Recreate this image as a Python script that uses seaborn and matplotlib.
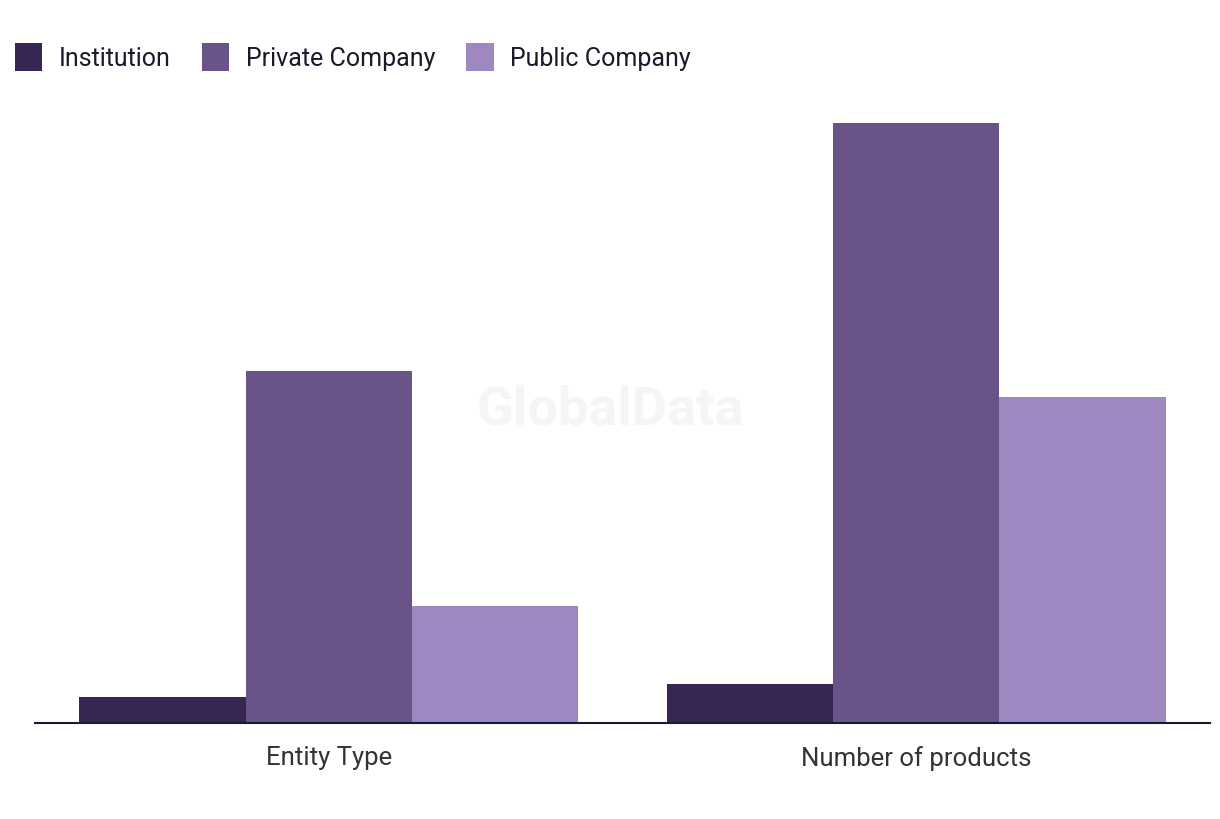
import matplotlib.pyplot as plt
import pandas as pd
import seaborn as sns
from matplotlib.patches import Patch

categories = ["Entity Type", "Number of products"]
series = ["Institution", "Private Company", "Public Company"]
institution = [2, 3]
private_company = [27, 46]
public_company = [9, 25]
colors = ["#372554", "#6a5389", "#9f88c1"]


def build_frame():
    rows = []
    for name, vals in zip(series, [institution, private_company, public_company]):
        for cat, v in zip(categories, vals):
            rows.append({"category": cat, "series": name, "value": v})
    return pd.DataFrame(rows)


def main():
    df = build_frame()
    sns.set_theme(style="white")
    plt.rcParams["font.family"] = ["Roboto", "DejaVu Sans"]

    fig = plt.figure(figsize=(12.2, 8.2), dpi=100)
    ax = fig.add_axes([0.0287, 0.1171, 0.9631, 0.7634])

    sns.barplot(data=df, x="category", y="value", hue="series",
                palette=colors, width=0.85, saturation=1, ax=ax,
                legend=False, linewidth=0)

    ax.set_xlim(-0.5, 1.5)
    ax.set_ylim(0, 48)
    ax.set_xlabel("")
    ax.set_ylabel("")
    ax.set_yticks([])
    for side in ["top", "right", "left"]:
        ax.spines[side].set_visible(False)
    ax.spines["bottom"].set_color("#1a1a2e")
    ax.spines["bottom"].set_linewidth(1.5)
    ax.spines["bottom"].set_zorder(5)
    ax.tick_params(axis="x", length=0, pad=16, labelsize=18.5, labelcolor="#333333")

    # faint watermark
    fig.text(0.5, 0.5, "GlobalData", ha="center", va="center",
             fontsize=39, fontweight="bold", color="#f5f5f5", zorder=0)

    handles = [Patch(facecolor=c, edgecolor="none") for c in colors]
    fig.legend(handles, series, loc="upper left", bbox_to_anchor=(0.004, 0.958),
               borderaxespad=0, ncol=3, frameon=False, fontsize=18,
               handlelength=1.1, handleheight=1.3, handletextpad=0.65,
               columnspacing=1.25, labelcolor="#1a1a2e")

    fig.savefig("out.png", dpi=100)


if __name__ == "__main__":
    main()
